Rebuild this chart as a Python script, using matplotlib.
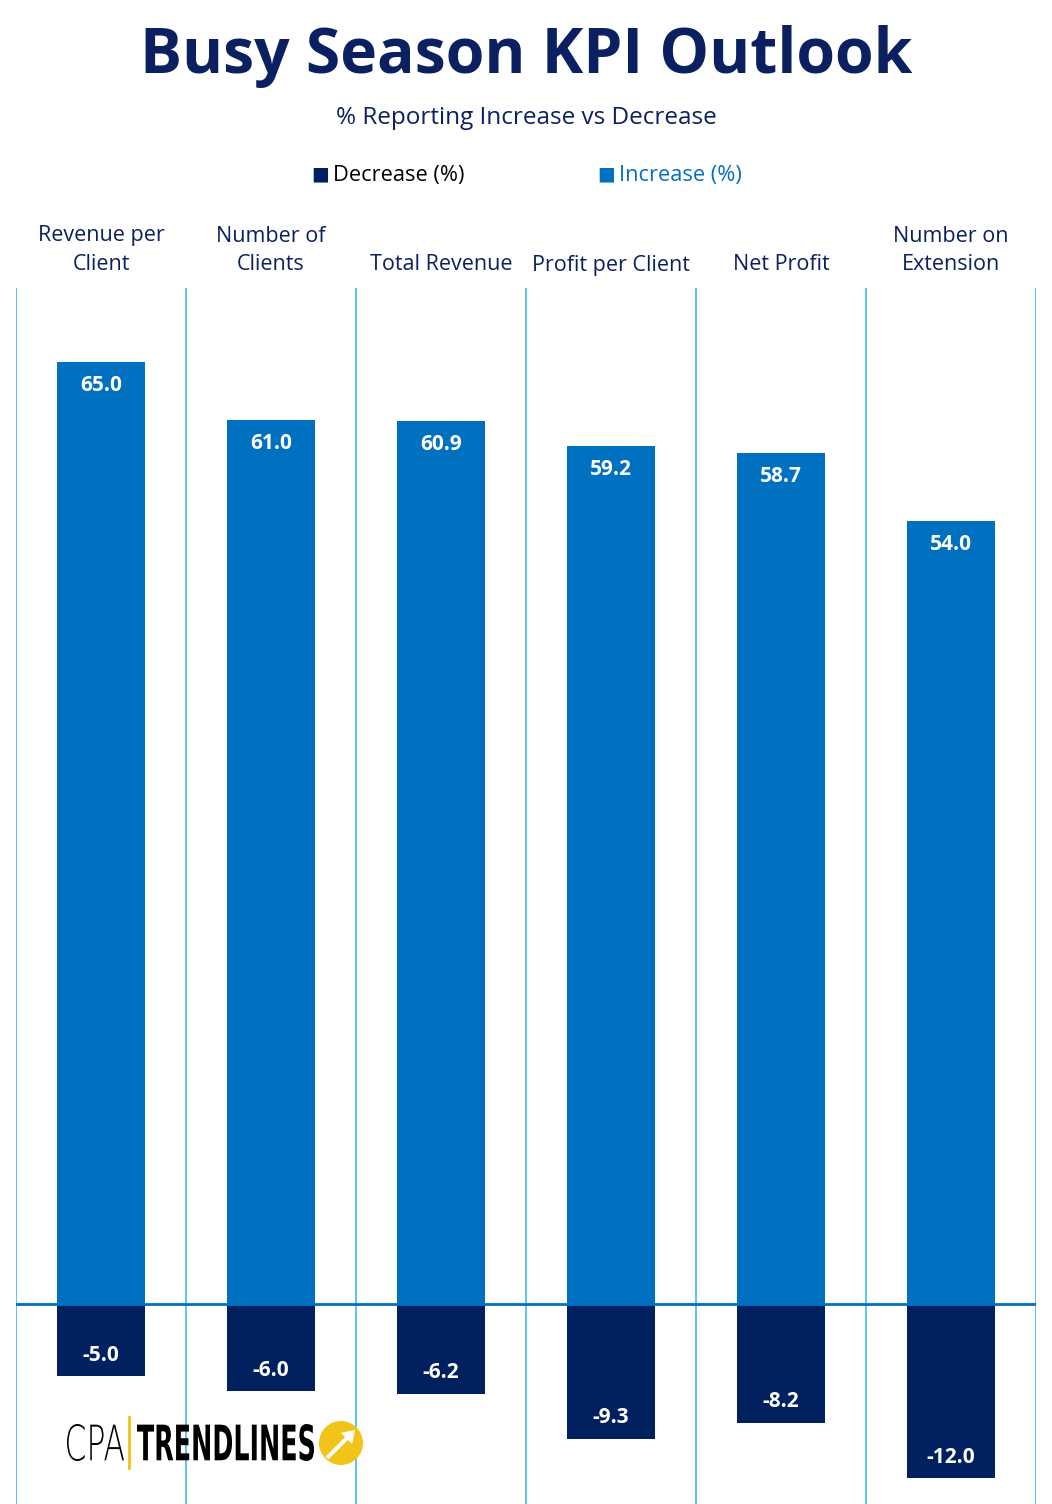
import matplotlib
matplotlib.use('Agg')
import matplotlib.pyplot as plt
import numpy as np
from matplotlib.patches import Circle, PathPatch, FancyArrow
from matplotlib.textpath import TextPath
from matplotlib.font_manager import FontProperties
from matplotlib.transforms import Affine2D, IdentityTransform

plt.rcParams['font.family'] = ['Open Sans', 'DejaVu Sans']

categories = ['Revenue per\nClient', 'Number of\nClients', 'Total Revenue',
              'Profit per Client', 'Net Profit', 'Number on\nExtension']
increase = [65.0, 61.0, 60.9, 59.2, 58.7, 54.0]
decrease = [-5.0, -6.0, -6.2, -9.3, -8.2, -12.0]

inc_color = '#0070c0'
dec_color = '#002060'
navy = '#0b2060'
yellow = '#f2c318'

W, H = 1052, 1504
fig = plt.figure(figsize=(W / 100, H / 100), dpi=100)
ax = fig.add_axes([16 / W, 0, 1020 / W, 1 - 288 / H])

x = np.arange(len(categories))
w = 0.52
ax.bar(x, increase, w, color=inc_color, zorder=2)
ax.bar(x, decrease, w, color=dec_color, zorder=2)

for xi, v in zip(x, increase):
    ax.annotate(f'{v:.1f}', (xi, v), xytext=(0, -17), textcoords='offset points',
                ha='center', va='center', color='white', fontsize=15, fontweight='bold')
for xi, v in zip(x, decrease):
    ax.annotate(f'{v:.1f}', (xi, v), xytext=(0, 15), textcoords='offset points',
                ha='center', va='center', color='white', fontsize=15, fontweight='bold')

for b in np.arange(-0.5, len(categories), 1.0):
    ax.axvline(b, color='#3fb8f5', lw=1.2, zorder=1)
ax.axhline(0, color=inc_color, lw=2, zorder=3)

ax.set_xlim(-0.5, len(categories) - 0.5)
ax.set_ylim(-13.8, 70.07)
ax.xaxis.tick_top()
ax.set_xticks(x)
ax.set_xticklabels(categories, fontsize=15.5, color=navy, linespacing=1.5)
ax.tick_params(axis='x', length=0, pad=9)
ax.set_yticks([])
for s in ax.spines.values():
    s.set_visible(False)

fig.text(0.5, 1 - 57 / H, 'Busy Season KPI Outlook', ha='center', va='center',
         fontsize=45, fontweight='bold', color=navy)
fig.text(0.5, 1 - 118 / H, '% Reporting Increase vs Decrease', ha='center', va='center',
         fontsize=17.5, color=navy)

# legend
fig.text(311 / W, 1 - 174 / H, '\u25A0', ha='left', va='center', fontsize=13.5, color=dec_color,
         family='DejaVu Sans')
fig.text(333 / W, 1 - 176 / H, 'Decrease (%)', ha='left', va='center', fontsize=15.7, color='black')
fig.text(597 / W, 1 - 174 / H, '\u25A0', ha='left', va='center', fontsize=13.5, color=inc_color,
         family='DejaVu Sans')
fig.text(619 / W, 1 - 176 / H, 'Increase (%)', ha='left', va='center', fontsize=15.7, color=inc_color)


# logo, drawn in pixel coordinates
def fit_text(s, x0, x1, ytop, ybot, weight, color):
    tp = TextPath((0, 0), s, size=100, prop=FontProperties(family='DejaVu Sans', weight=weight))
    bb = tp.get_extents()
    sx = (x1 - x0) / bb.width
    sy = (ybot - ytop) / bb.height
    tr = Affine2D().translate(-bb.x0, -bb.y0).scale(sx, sy).translate(x0, H - ybot)
    fig.add_artist(PathPatch(tp, transform=tr, facecolor=color, edgecolor='none'))


fit_text('CPA', 67, 124, 1424, 1461, 'light', 'black')
fit_text('TRENDLINES', 137, 314, 1424, 1461, 'bold', 'black')
fig.add_artist(plt.Line2D([129, 129], [H - 1417, H - 1468], color=yellow, lw=2,
                          transform=IdentityTransform()))
fig.add_artist(Circle((341, H - 1443), 22, transform=IdentityTransform(),
                      facecolor=yellow, edgecolor='none'))
fig.add_artist(FancyArrow(327, H - 1458, 28, 28, width=4, head_width=16, head_length=12,
                          length_includes_head=True, transform=IdentityTransform(),
                          facecolor='white', edgecolor='none'))

fig.savefig('out.png', dpi=100)
